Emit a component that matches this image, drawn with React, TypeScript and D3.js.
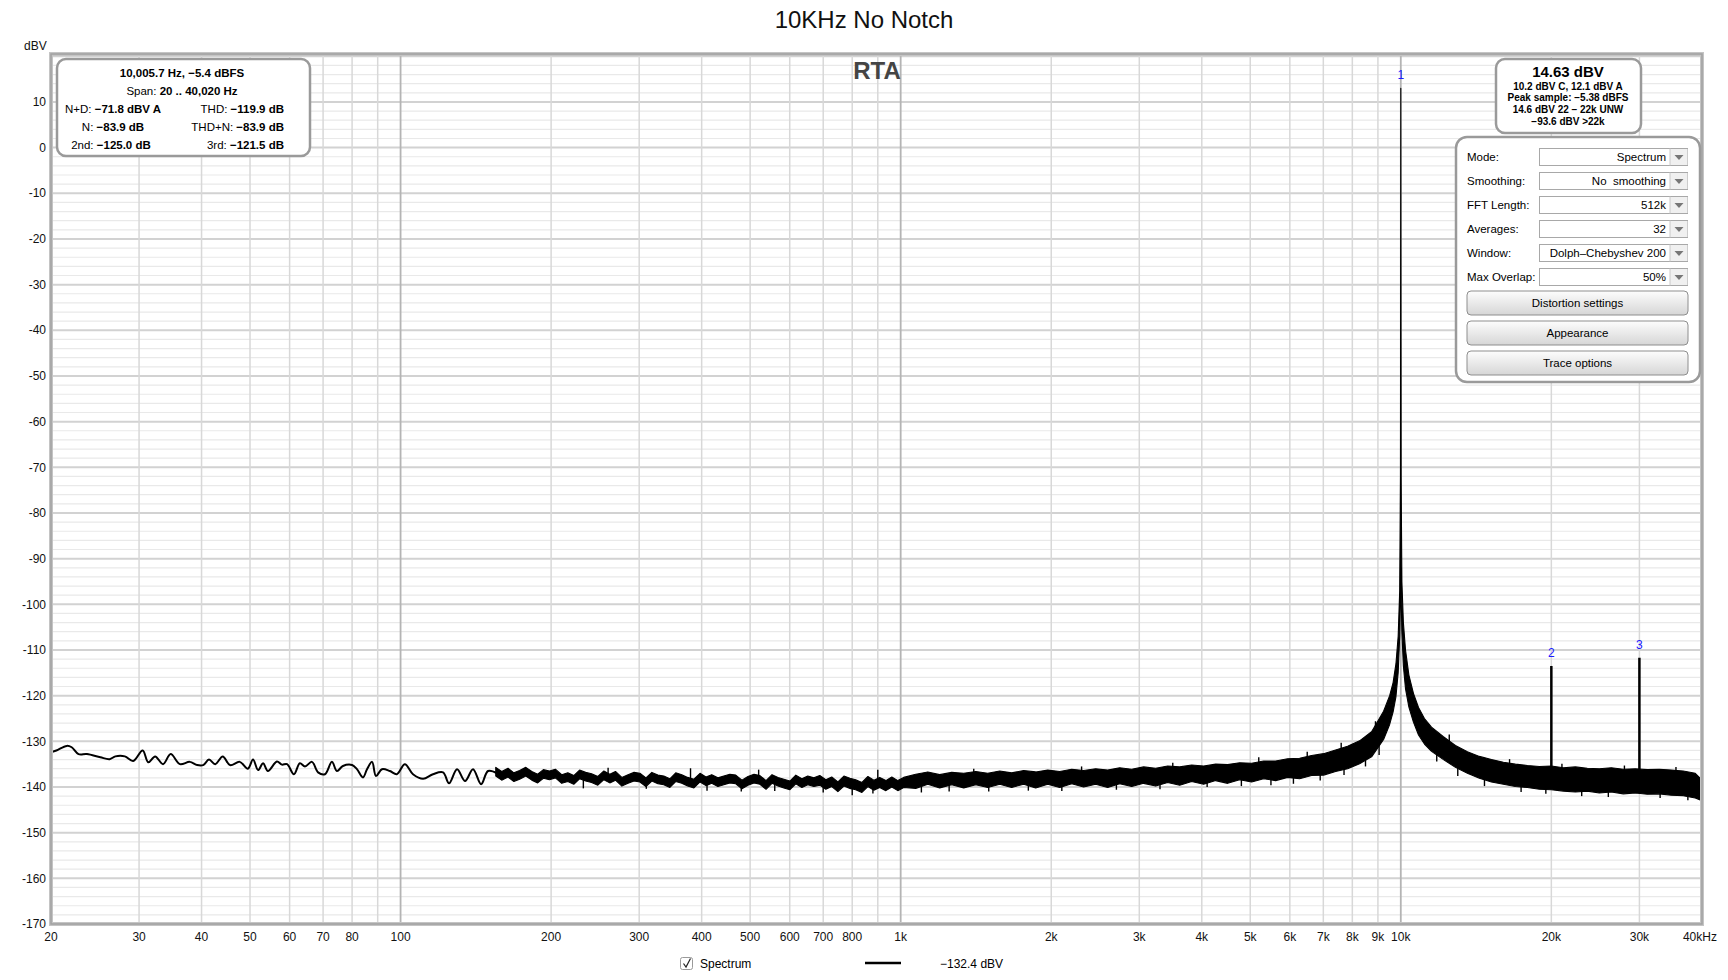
import React from 'react';
import * as d3 from 'd3';

const W = 1728;
const H = 980;
const FONT = 'Liberation Sans, Arial, sans-serif';

// ---- axis ticks ----
const yTickValues = [10, 0, -10, -20, -30, -40, -50, -60, -70, -80, -90, -100, -110, -120, -130, -140, -150, -160, -170];
const xTickValues = [20, 30, 40, 50, 60, 70, 80, 100, 200, 300, 400, 500, 600, 700, 800, 1000, 2000, 3000, 4000, 5000, 6000, 7000, 8000, 9000, 10000, 20000, 30000, 40000];
const xTickLabels = ['20', '30', '40', '50', '60', '70', '80', '100', '200', '300', '400', '500', '600', '700', '800', '1k', '2k', '3k', '4k', '5k', '6k', '7k', '8k', '9k', '10k', '20k', '30k', '40kHz'];
const xGridValues = [20, 30, 40, 50, 60, 70, 80, 90, 100, 200, 300, 400, 500, 600, 700, 800, 900, 1000, 2000, 3000, 4000, 5000, 6000, 7000, 8000, 9000, 10000, 20000, 30000, 40000];
const decadeValues = [100, 1000, 10000];

// ---- low-frequency trace (single line) ----
const lowHz = [20, 20.5, 21.5, 22, 22.7, 23.6, 25.1, 26.2, 26.9, 28.1, 29.2, 30.5, 31.3, 32.3, 33.5, 34.7, 36.2, 37.9, 39.2, 40.3, 41.4, 42.6, 44.1, 45.6, 47.7, 49.5, 50.7, 51.9, 53.1, 54.3, 56.6, 57.9, 59.3, 61.2, 62.9, 64.4, 66.5, 68.4, 70.6, 72.9, 74.6, 76.7, 80, 81.8, 84.1, 85.7, 87.7, 89.3, 91.8, 95.2, 98.3, 102, 105.9, 110.9, 116.1, 121.6, 125, 129.7, 134.6, 139.6, 144.9, 149.6, 156];
const lowDbv = [-132.4, -132, -131, -131.3, -132.8, -132.8, -133.5, -133.9, -133.3, -133.3, -134.3, -132, -134.6, -133.3, -135, -132.8, -135, -134.5, -135.2, -135.2, -134, -135, -133.3, -135.2, -134.5, -136, -134, -136.3, -134.8, -136.5, -134.4, -135.1, -135, -137.2, -134.8, -135.5, -134.5, -136.8, -137.2, -134.5, -136.5, -135.4, -135.2, -136.1, -137.9, -136.1, -134.5, -137.6, -136.1, -136.5, -137.2, -135, -137.2, -138.2, -137.2, -136.8, -139.2, -136.1, -138.7, -136.1, -139.4, -136.5, -137];

// ---- dense FFT band (upper / lower envelope) ----
const bandHz = [155, 159.3, 164, 168.5, 173, 178, 183, 188, 193, 198.5, 204, 210, 216, 222, 228, 234.5, 241, 248, 255, 262, 269, 277, 285, 293, 301, 309.5, 318, 327, 336, 345.5, 355, 365, 375, 386, 397, 408, 419, 431, 443, 455.5, 468, 481.5, 495, 509, 523, 538, 553, 568.5, 584, 600.5, 617, 634.5, 652, 670.5, 689, 708.5, 728, 749, 770, 791.5, 813, 836.5, 860, 884, 908, 934, 960, 987, 1014,
  1072, 1133, 1197, 1265, 1337, 1413, 1493, 1578, 1667, 1762, 1862, 1968, 2080, 2198, 2322, 2454, 2594, 2741, 2897, 3061, 3235, 3419, 3613, 3818, 4035, 4264, 4506, 4762, 5032, 5318, 5620, 5939, 6276, 6633, 7009, 7407, 7828, 8272, 8742, 9238, 9500, 9650, 9780, 9880, 9950, 9985, 10000, 10015, 10050, 10120, 10220, 10380, 10600, 10850, 11150, 11520, 12170, 12860, 13590, 14360, 15180, 16040, 16950, 17910, 18930, 20000, 21140, 22340, 23600, 24940, 26360, 27860, 29440, 31110, 32880, 34740, 36710, 38800, 40020];
const bandTopDbv = [-135.7, -136.6, -135.9, -136.9, -136.4, -135.7, -136.6, -137.2, -136.2, -136.5, -136.1, -137.3, -136.9, -137.5, -136.3, -136.8, -137.1, -137.7, -136.5, -137.2, -136.6, -137.9, -137.3, -136.8, -137.0, -138.0, -136.8, -137.4, -137.6, -138.2, -136.9, -137.3, -137.9, -138.3, -137.0, -137.8, -137.3, -138.0, -137.6, -137.2, -137.4, -138.5, -137.7, -137.2, -137.5, -138.6, -137.3, -137.9, -138.3, -138.7, -137.4, -138.2, -137.6, -138.0, -137.5, -138.4, -137.8, -138.9, -137.6, -138.1, -138.4, -139.0, -137.7, -138.5, -137.9, -138.6, -137.8, -138.6, -137.9,
  -137.2, -136.7, -137.3, -136.8, -137.0, -136.6, -137.0, -136.5, -136.9, -136.4, -136.7, -136.3, -136.6, -136.1, -136.4, -136.0, -136.3, -135.8, -136.1, -135.6, -135.9, -135.4, -135.6, -135.2, -135.4, -135.0, -135.1, -134.7, -134.8, -134.3, -134.3, -133.8, -133.7, -133.1, -132.7, -131.9, -131.1, -129.9, -127.9, -123.4, -120.0, -117.2, -113.0, -107.0, -97.0, -72.0, 13.0, -72.0, -95.0, -104.0, -110.0, -115.5, -119.5, -122.6, -125.0, -126.9, -129.0, -130.9, -132.3, -133.3, -134.0, -134.6, -135.0, -135.3, -135.5, -135.4, -135.8, -135.6, -135.9, -136.0, -135.8, -136.1, -136.0, -136.2, -136.1, -136.3, -136.5, -137.0, -138.5];
const bandBottomDbv = [-137.6, -138.5, -137.8, -138.8, -138.3, -137.6, -138.5, -139.1, -138.1, -138.4, -138.0, -139.2, -138.8, -139.4, -138.2, -138.7, -139.0, -139.6, -138.4, -139.1, -138.5, -139.8, -139.2, -138.7, -138.9, -139.9, -138.7, -139.3, -139.5, -140.1, -138.8, -139.2, -139.8, -140.2, -138.9, -139.7, -139.2, -139.9, -139.5, -139.1, -139.3, -140.4, -139.6, -139.1, -139.4, -140.5, -139.2, -139.8, -140.2, -140.6, -139.3, -140.1, -139.5, -139.9, -139.6, -140.5, -139.9, -141.0, -139.8, -140.3, -140.6, -141.2, -139.9, -140.7, -140.1, -140.8, -140.0, -140.8, -140.1,
  -140.3, -139.4, -140.2, -139.5, -140.2, -139.5, -140.1, -139.4, -140.1, -139.4, -140.2, -139.4, -140.1, -139.3, -140.0, -139.4, -140.1, -139.3, -139.9, -139.2, -139.8, -139.0, -139.6, -138.8, -139.4, -138.6, -139.2, -138.4, -138.9, -138.2, -138.6, -137.9, -138.2, -137.5, -137.4, -136.6, -136.0, -134.9, -133.4, -129.6, -126.3, -123.6, -120.2, -115.0, -107.0, -98.0, -92.0, -98.0, -106.0, -113.5, -118.5, -122.5, -125.8, -128.6, -130.6, -132.2, -134.0, -135.7, -137.0, -138.1, -138.9, -139.4, -139.9, -140.1, -140.5, -140.6, -140.9, -141.1, -140.9, -141.3, -141.1, -141.5, -141.3, -141.6, -141.5, -141.8, -141.9, -142.4, -143.0];

// ---- isolated spikes of the dense trace ----
const spikeHz = [232, 260, 310, 380, 410, 480, 520, 560, 700, 800, 880, 900, 1100, 1250, 1400, 1500, 1800, 2100, 2300, 2700, 3300, 3500, 4100, 4800, 5200, 5500, 6100, 6500, 6900, 7600, 7700, 8500, 8900, 9050, 11800, 12500, 13000, 14700, 16500, 17400, 19500, 21000, 23000, 26000, 28000, 33000, 35500, 37500, 40000];
const spikeDbv = [-140.3, -135.8, -140.4, -135.9, -140.8, -141.0, -136.2, -140.9, -141.2, -141.8, -141.4, -136.2, -141.2, -141.0, -136.0, -141.0, -140.8, -140.9, -135.5, -140.6, -140.5, -134.7, -140.0, -139.8, -133.5, -139.6, -139.3, -132.3, -138.6, -130.3, -137.4, -135.5, -125.6, -133.0, -134.4, -128.5, -137.6, -139.8, -133.9, -141.1, -141.5, -134.9, -142.0, -142.2, -135.3, -142.4, -135.6, -142.9, -143.8];

// ---- harmonic spikes and markers ----
const harmonicHz = [20000, 30000];
const harmonicDbv = [-113.5, -111.7];
const markerHz = [10000, 20000, 30000];
const markerNames = ['1', '2', '3'];
const markerDbv = [13.0, -113.5, -111.7];

// ---- panel texts ----
const panelRows = ['Mode:', 'Smoothing:', 'FFT Length:', 'Averages:', 'Window:', 'Max Overlap:'];
const panelValues = ['Spectrum', 'No\u00a0 smoothing', '512k', '32', 'Dolph\u2013Chebyshev 200', '50%'];
const panelButtons = ['Distortion settings', 'Appearance', 'Trace options'];
const levelLines = ['10.2 dBV C, 12.1 dBV A', 'Peak sample: \u22125.38 dBFS', '14.6 dBV 22 \u2013 22k UNW', '\u221293.6 dBV >22k'];

export default function App() {
  const x = d3.scaleLog().domain([20, 40020]).range([51, 1702]);
  const y = d3.scaleLinear().domain([20.5, -170]).range([54, 924]);
  const left = 51, right = 1702, top = 54, bottom = 924;

  const hGrid = d3.range(-170, 21, 2);

  const lowLine = d3.line<number>()
    .x((_, i) => x(lowHz[i]))
    .y((d) => y(d))
    .curve(d3.curveCatmullRom.alpha(0.5))(lowDbv) || '';

  const band = d3.area<number>()
    .x((f) => x(f))
    .y0((_, i) => y(bandBottomDbv[i]))
    .y1((_, i) => y(bandTopDbv[i]))(bandHz) || '';

  // band middle (for spike bases), read from the envelope arrays
  const bandMid = (f: number) => {
    const i = Math.max(1, Math.min(bandHz.length - 1, d3.bisectLeft(bandHz, f)));
    const f0 = bandHz[i - 1], f1 = bandHz[i];
    const t = (Math.log(f) - Math.log(f0)) / (Math.log(f1) - Math.log(f0));
    const m0 = (bandTopDbv[i - 1] + bandBottomDbv[i - 1]) / 2;
    const m1 = (bandTopDbv[i] + bandBottomDbv[i]) / 2;
    return m0 + (m1 - m0) * Math.max(0, Math.min(1, t));
  };

  const rowY0 = 157;
  const rowStep = 24;

  return (
    <svg width={W} height={H} style={{ position: 'absolute', left: 0, top: 0, background: '#fff' }} fontFamily={FONT}>
      <defs>
        <clipPath id="plotClip">
          <rect x={left} y={top} width={right - left} height={bottom - top} />
        </clipPath>
        <linearGradient id="btnGrad" x1="0" y1="0" x2="0" y2="1">
          <stop offset="0" stopColor="#fdfdfd" />
          <stop offset="1" stopColor="#d6d6d6" />
        </linearGradient>
      </defs>
      <rect x={0} y={0} width={W} height={H} fill="#fff" />

      {/* title */}
      <text x={864} y={28} fontSize={24} textAnchor="middle" fill="#111">10KHz No Notch</text>
      <text x={24} y={50} fontSize={12} fill="#111">dBV</text>

      {/* grid */}
      <g clipPath="url(#plotClip)">
        {hGrid.map((v) => (
          <line key={'h' + v} x1={left} x2={right} y1={y(v)} y2={y(v)}
            stroke={v % 10 === 0 ? '#d2d2d2' : '#e9e9e9'} strokeWidth={v % 10 === 0 ? 2 : 1.2} />
        ))}
        {xGridValues.map((f) => (
          <line key={'v' + f} x1={x(f)} x2={x(f)} y1={top} y2={bottom}
            stroke={decadeValues.includes(f) ? '#b4b4b4' : '#d8d8d8'} strokeWidth={decadeValues.includes(f) ? 1.8 : 1.5} />
        ))}
      </g>

      {/* RTA label */}
      <text x={877} y={79} fontSize={24} fontWeight="bold" textAnchor="middle" fill="#444">RTA</text>

      {/* traces */}
      <g clipPath="url(#plotClip)">
        <path d={lowLine} fill="none" stroke="#000" strokeWidth={2} strokeLinejoin="round" />
        <path d={band} fill="#000" stroke="#000" strokeWidth={1.1} strokeLinejoin="round" />
        {spikeHz.map((f, i) => (
          <line key={'sp' + i} x1={x(f)} x2={x(f)} y1={y(bandMid(f))} y2={y(spikeDbv[i])} stroke="#000" strokeWidth={1.4} />
        ))}
        {harmonicHz.map((f, i) => (
          <line key={'hm' + f} x1={x(f)} x2={x(f)} y1={y(-139)} y2={y(harmonicDbv[i])} stroke="#000" strokeWidth={2.5} />
        ))}
      </g>
      {markerHz.map((f, i) => (
        <text key={'mk' + f} x={x(f)} y={y(markerDbv[i]) - 9} fontSize={12} textAnchor="middle" fill="#1a1aff">{markerNames[i]}</text>
      ))}

      {/* frame */}
      <rect x={left} y={top} width={right - left} height={bottom - top} fill="none" stroke="#c4c4c4" strokeWidth={4} />
      <rect x={left} y={top} width={right - left} height={bottom - top} fill="none" stroke="#a0a0a0" strokeWidth={1.5} />

      {/* y ticks */}
      {yTickValues.map((v) => (
        <text key={'yt' + v} x={46} y={y(v)} dy="0.35em" fontSize={12} textAnchor="end" fill="#111">{v < 0 ? '-' + Math.abs(v) : String(v)}</text>
      ))}
      {/* x ticks */}
      {xTickValues.map((f, i) => (
        <text key={'xt' + f} x={f === 40000 ? x(f) - 2 : x(f)} y={941} fontSize={12} textAnchor="middle" fill="#111">{xTickLabels[i]}</text>
      ))}

      {/* top-left info box */}
      <rect x={57} y={59} width={253} height={97} rx={9} fill="#fff" stroke="#9a9a9a" strokeWidth={2.5} />
      <g fontSize={11.5} fill="#000">
        <text x={182} y={76.5} textAnchor="middle" fontWeight="bold">10,005.7 Hz, {'\u2212'}5.4 dBFS</text>
        <text x={182} y={94.5} textAnchor="middle">Span: <tspan fontWeight="bold">20 .. 40,020 Hz</tspan></text>
        <text x={113} y={112.5} textAnchor="middle">N+D: <tspan fontWeight="bold">{'\u2212'}71.8 dBV A</tspan></text>
        <text x={113} y={130.5} textAnchor="middle">N: <tspan fontWeight="bold">{'\u2212'}83.9 dB</tspan></text>
        <text x={111} y={148.5} textAnchor="middle">2nd: <tspan fontWeight="bold">{'\u2212'}125.0 dB</tspan></text>
        <text x={284} y={112.5} textAnchor="end">THD: <tspan fontWeight="bold">{'\u2212'}119.9 dB</tspan></text>
        <text x={284} y={130.5} textAnchor="end">THD+N: <tspan fontWeight="bold">{'\u2212'}83.9 dB</tspan></text>
        <text x={284} y={148.5} textAnchor="end">3rd: <tspan fontWeight="bold">{'\u2212'}121.5 dB</tspan></text>
      </g>

      {/* top-right level box */}
      <rect x={1496} y={59} width={145} height={74} rx={9} fill="#fff" stroke="#9a9a9a" strokeWidth={2.5} />
      <text x={1568} y={77} fontSize={15} fontWeight="bold" textAnchor="middle" fill="#000">14.63 dBV</text>
      {levelLines.map((t, i) => (
        <text key={'lv' + i} x={1568} y={89.5 + i * 11.7} fontSize={10} fontWeight="bold" textAnchor="middle" fill="#000">{t}</text>
      ))}

      {/* control panel */}
      <rect x={1456} y={137} width={244} height={245} rx={11} fill="#fff" stroke="#9a9a9a" strokeWidth={2.5} />
      {panelRows.map((label, i) => {
        const cy = rowY0 + i * rowStep;
        return (
          <g key={'row' + i}>
            <text x={1467} y={cy + 4} fontSize={11.5} fill="#000">{label}</text>
            <rect x={1539.5} y={cy - 8.5} width={148} height={17} fill="#fff" stroke="#a8a8a8" strokeWidth={1} />
            <rect x={1670} y={cy - 8} width={17.5} height={16} fill="#f0f0f0" />
            <line x1={1670} x2={1670} y1={cy - 8.5} y2={cy + 8.5} stroke="#c8c8c8" strokeWidth={1} />
            <path d={`M${1674.5},${cy - 2} L${1683.5},${cy - 2} L${1679},${cy + 3} Z`} fill="#777" />
            <text x={1666} y={cy + 4} fontSize={11.5} textAnchor="end" fill="#000">{panelValues[i]}</text>
          </g>
        );
      })}
      {panelButtons.map((label, i) => {
        const by = 291 + i * 30;
        return (
          <g key={'btn' + i}>
            <rect x={1467} y={by} width={221} height={24} rx={4} fill="url(#btnGrad)" stroke="#8e8e8e" strokeWidth={1} />
            <text x={1577.5} y={by + 16} fontSize={11.5} textAnchor="middle" fill="#000">{label}</text>
          </g>
        );
      })}

      {/* legend */}
      <rect x={680.5} y={957.5} width={12} height={12} rx={2} fill="#fff" stroke="#9a9a9a" strokeWidth={1} />
      <path d="M683.5,963.5 L686,967 L690.5,958.5" fill="none" stroke="#222" strokeWidth={1.2} />
      <text x={700} y={968} fontSize={12} fill="#000">Spectrum</text>
      <line x1={865} x2={901} y1={963} y2={963} stroke="#000" strokeWidth={2.5} />
      <text x={940} y={968} fontSize={12} fill="#000">{'\u2212'}132.4 dBV</text>
    </svg>
  );
}
